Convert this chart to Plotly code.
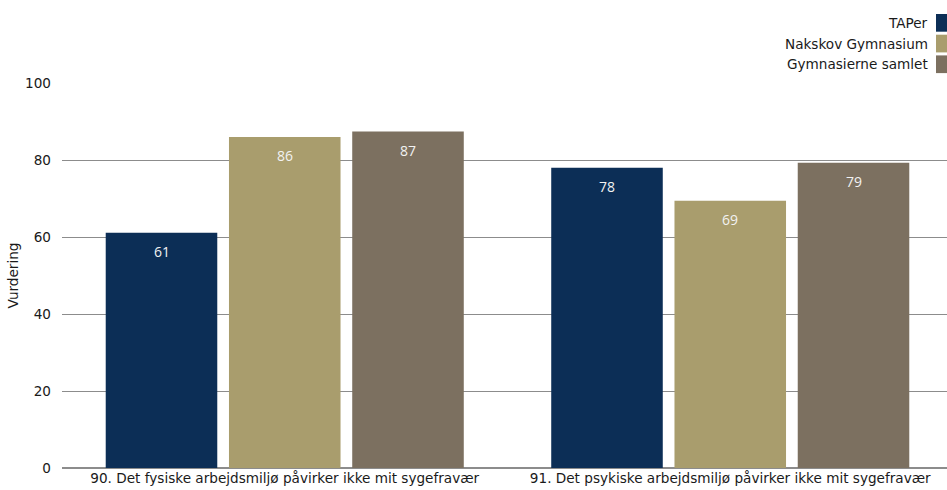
import plotly.graph_objects as go

categories = [
    "90. Det fysiske arbejdsmiljø påvirker ikke mit sygefravær",
    "91. Det psykiske arbejdsmiljø påvirker ikke mit sygefravær",
]
series_names = ["TAPer", "Nakskov Gymnasium", "Gymnasierne samlet"]
taper = [61.1, 78.0]
nakskov = [86.0, 69.4]
samlet = [87.4, 79.3]
series_values = [taper, nakskov, samlet]
colors = ["#0c2e56", "#a99d6d", "#7c7060"]
y_ticks = [0, 20, 40, 60, 80, 100]
y_title = "Vurdering"

AXFONT = "DejaVu Sans"
LBLFONT = "Open Sans"
FS = 13.6
TXT = "#1a1a1a"
BARGAP = 0.17
GROUPGAP = 0.095

fig = go.Figure()
for name, vals, col in zip(series_names, series_values, colors):
    fig.add_trace(go.Bar(
        x=categories, y=vals, name=name, marker=dict(color=col, line=dict(width=0)),
        showlegend=False, hoverinfo="x+y+name",
    ))

# data labels inside bar tops
slot = (1 - BARGAP) / len(series_names)
annotations = []
for si, vals in enumerate(series_values):
    off = (si - (len(series_names) - 1) / 2) * slot
    for ci, v in enumerate(vals):
        annotations.append(dict(
            x=ci + off, y=v, xref="x", yref="y", text=f"{round(v):d}",
            showarrow=False, yshift=-19, yanchor="middle", xanchor="center",
            font=dict(family=LBLFONT, size=14, color="#f2f2f2"),
        ))

# custom legend (text right, swatch at far right)
shapes = []
row_pitch = 20.7
top0 = 14
for i, (name, col) in enumerate(zip(series_names, colors)):
    y0 = top0 + i * row_pitch
    yc = y0 + 9
    shapes.append(dict(
        type="rect", xref="paper", yref="paper",
        x0=(936 - 62) / 885, x1=(948 - 62) / 885,
        y0=(468 - (y0 + 17.7)) / 385, y1=(468 - y0) / 385,
        fillcolor=col, line=dict(width=0), layer="above",
    ))
    annotations.append(dict(
        x=(930 - 62) / 885, y=(468 - yc) / 385, xref="paper", yref="paper",
        text=name, showarrow=False, xanchor="right", yanchor="middle",
        font=dict(family=AXFONT, size=FS, color=TXT),
    ))

fig.update_layout(
    width=947, height=490,
    margin=dict(l=62, r=0, t=83, b=22, pad=0),
    paper_bgcolor="white", plot_bgcolor="white",
    barmode="group", bargap=BARGAP, bargroupgap=GROUPGAP,
    annotations=annotations, shapes=shapes,
    font=dict(family=AXFONT, size=FS, color=TXT),
    xaxis=dict(
        type="category", range=[-0.5, 1.5 - 6 / 445], showgrid=False,
        showline=False, ticks="", tickfont=dict(family=AXFONT, size=FS, color=TXT),
        fixedrange=True,
    ),
    yaxis=dict(
        range=[0, 100], tickvals=y_ticks, showgrid=True, gridcolor="#8c8c8c",
        gridwidth=1, zeroline=True, zerolinecolor="#8c8c8c", zerolinewidth=2,
        ticks="", ticklabelstandoff=10, showline=False,
        tickfont=dict(family=AXFONT, size=FS, color=TXT),
        title=dict(text=y_title, standoff=3, font=dict(family=AXFONT, size=FS, color=TXT)),
    ),
)

fig.write_html(
    "out.html",
    config={"displayModeBar": False},
    post_script="document.body.style.margin='0';document.body.style.overflow='hidden';",
)
